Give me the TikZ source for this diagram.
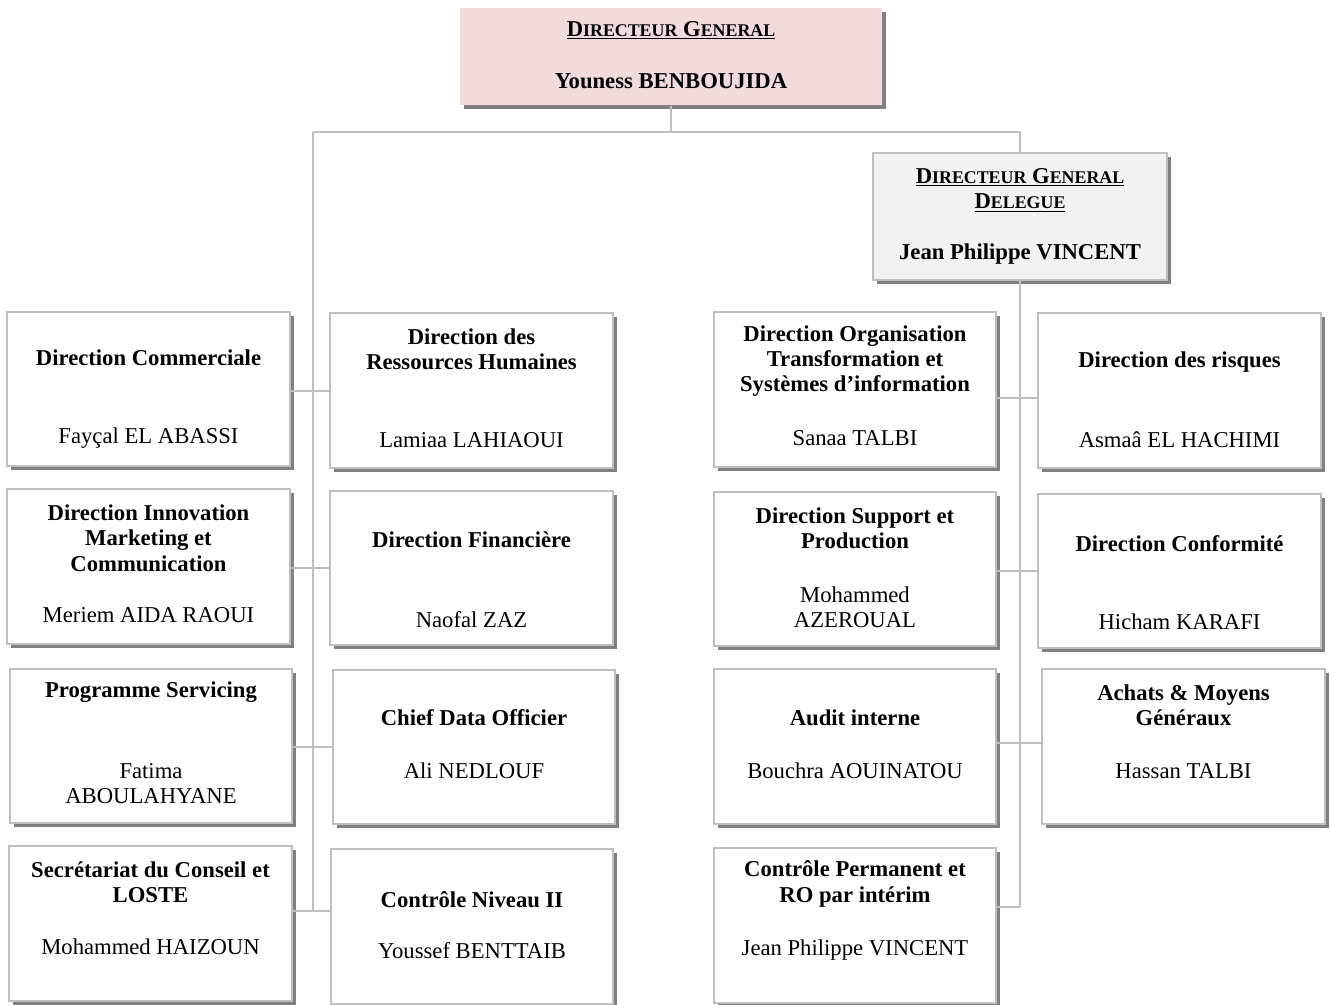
\documentclass[tikz,border=0pt]{standalone}
\usepackage{fontspec}
\setmainfont{Liberation Serif}
\usetikzlibrary{shadows}
\definecolor{dgpink}{HTML}{F2DCDB}
\definecolor{dgdgray}{HTML}{F2F2F2}
\newcommand{\smc}[1]{{\fontsize{13.4}{15}\selectfont #1}}
\tikzset{
	unitbox/.style={draw=gray!50, line width=1.5pt, fill=white, minimum width=212pt, minimum height=116pt,
		drop shadow={shadow xshift=3pt, shadow yshift=-3pt, fill=gray, opacity=1}},
	headtext/.style={font=\bfseries\fontsize{17}{19}\selectfont, align=center},
	nametext/.style={font=\fontsize{17}{19}\selectfont, align=center},
	link/.style={draw=gray!50, line width=1.5pt}
}
\begin{document}
\begin{tikzpicture}[x=0.75pt,y=-0.75pt]
	\useasboundingbox (0,0) rectangle (1330,1005);
	% direction generale
	\node[unitbox, fill=dgpink, draw=none, minimum width=316pt, minimum height=73pt] (dg) at (671,56.5) {};
	\node[headtext] (dg-t) at (671,30) {\underline{D\smc{IRECTEUR} G\smc{ENERAL}}};
	\node[headtext] (dg-n) at (671,81) {Youness BENBOUJIDA};
	\node[unitbox, fill=dgdgray, minimum width=220pt, minimum height=95pt] (dgd) at (1020,216.5) {};
	\node[headtext] (dgd-t) at (1020,190) {\underline{D\smc{IRECTEUR} G\smc{ENERAL}}\\\underline{D\smc{ELEGUE}}};
	\node[headtext] (dgd-n) at (1020,254) {Jean Philippe VINCENT};
	% colonne gauche
	\node[unitbox] (dc) at (148.5,389) {};
	\node[headtext] (dc-t) at (148.5,358) {Direction Commerciale};
	\node[nametext] (dc-n) at (148.5,438) {Fayçal EL ABASSI};
	\node[unitbox] (dimc) at (148.5,566.5) {};
	\node[headtext] (dimc-t) at (148.5,538) {Direction Innovation\\Marketing et\\Communication};
	\node[nametext] (dimc-n) at (148.5,615) {Meriem AIDA RAOUI};
	\node[unitbox] (ps) at (151,746) {};
	\node[headtext] (ps-t) at (151,692) {Programme Servicing};
	\node[nametext] (ps-n) at (151,783.5) {Fatima\\ABOULAHYANE};
	\node[unitbox] (sec) at (150.5,923.5) {};
	\node[headtext] (sec-t) at (150.5,882.5) {Secrétariat du Conseil et\\LOSTE};
	\node[nametext] (sec-n) at (150.5,947) {Mohammed HAIZOUN};
	\node[unitbox] (drh) at (471.5,390.5) {};
	\node[headtext] (drh-t) at (471.5,349) {Direction des\\Ressources Humaines};
	\node[nametext] (drh-n) at (471.5,440) {Lamiaa LAHIAOUI};
	\node[unitbox] (df) at (471.5,568) {};
	\node[headtext] (df-t) at (471.5,540) {Direction Financière};
	\node[nametext] (df-n) at (471.5,620) {Naofal ZAZ};
	\node[unitbox] (cdo) at (474,747) {};
	\node[headtext] (cdo-t) at (474,718) {Chief Data Officier};
	\node[nametext] (cdo-n) at (474,771) {Ali NEDLOUF};
	\node[unitbox] (cn2) at (472,926.5) {};
	\node[headtext] (cn2-t) at (472,900) {Contrôle Niveau II};
	\node[nametext] (cn2-n) at (472,951) {Youssef BENTTAIB};
	% colonne droite
	\node[unitbox] (dotsi) at (855,389.5) {};
	\node[headtext] (dotsi-t) at (855,361) {Direction Organisation\\Transformation et\\Systèmes d’information};
	\node[nametext] (dotsi-n) at (855,438) {Sanaa TALBI};
	\node[unitbox] (dsp) at (855,569) {};
	\node[headtext] (dsp-t) at (855,528.5) {Direction Support et\\Production};
	\node[nametext] (dsp-n) at (855,607.5) {Mohammed\\AZEROUAL};
	\node[unitbox] (ai) at (855,746.5) {};
	\node[headtext] (ai-t) at (855,718) {Audit interne};
	\node[nametext] (ai-n) at (855,771) {Bouchra AOUINATOU};
	\node[unitbox] (cp) at (855,925.5) {};
	\node[headtext] (cp-t) at (855,884) {Contrôle Permanent et\\RO par intérim};
	\node[nametext] (cp-n) at (855,950) {Jean Philippe VINCENT};
	\node[unitbox] (dr) at (1179.5,390.5) {};
	\node[headtext] (dr-t) at (1179.5,362) {Direction des risques};
	\node[nametext] (dr-n) at (1179.5,440) {Asmaâ EL HACHIMI};
	\node[unitbox] (dcf) at (1179.5,571) {};
	\node[headtext] (dcf-t) at (1179.5,544) {Direction Conformité};
	\node[nametext] (dcf-n) at (1179.5,622) {Hicham KARAFI};
	\node[unitbox] (amg) at (1183.5,746.5) {};
	\node[headtext] (amg-t) at (1183.5,705.5) {Achats \& Moyens\\Généraux};
	\node[nametext] (amg-n) at (1183.5,771) {Hassan TALBI};
	% liaisons
	\coordinate (tl) at (313,132);
	\coordinate (tr) at (1020,132);
	\coordinate (lb) at (313,911);
	\coordinate (l1) at (313,390.5);
	\coordinate (l2) at (313,567.5);
	\coordinate (l3) at (313,747);
	\coordinate (rb) at (1020,907);
	\coordinate (r1) at (1020,398);
	\coordinate (r2) at (1020,570.5);
	\coordinate (r3) at (1020,743);
	\draw[link] (dg.south) -- (dg.south |- tl);
	\draw[link] (tl) -- (tr) -- (dgd.north);
	\draw[link] (tl) -- (lb);
	\draw[link] (dc.east |- l1) -- (drh.west |- l1);
	\draw[link] (dimc.east |- l2) -- (df.west |- l2);
	\draw[link] (ps.east |- l3) -- (cdo.west |- l3);
	\draw[link] (sec.east |- lb) -- (cn2.west |- lb);
	\draw[link] (dgd.south) -- (rb);
	\draw[link] (dotsi.east |- r1) -- (dr.west |- r1);
	\draw[link] (dsp.east |- r2) -- (dcf.west |- r2);
	\draw[link] (ai.east |- r3) -- (amg.west |- r3);
	\draw[link] (cp.east |- rb) -- (rb);
\end{tikzpicture}
\end{document}
